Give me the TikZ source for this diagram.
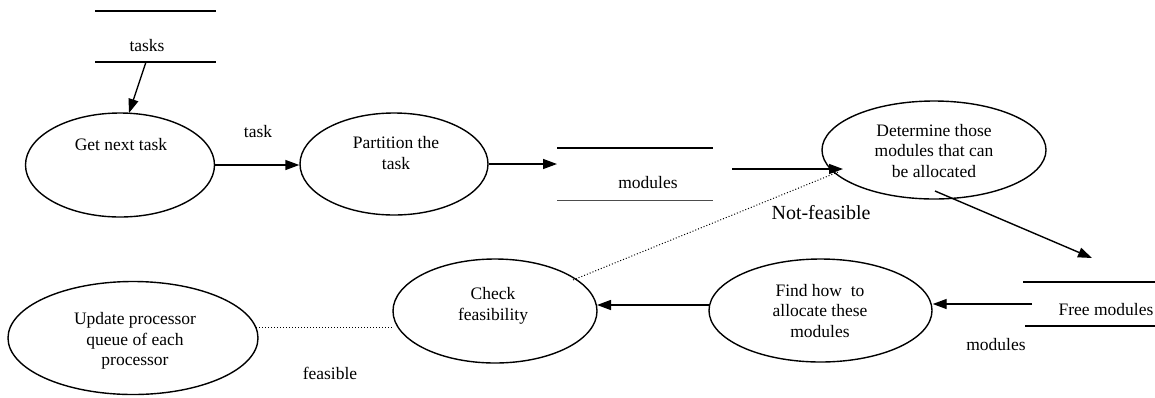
\documentclass[tikz,border=0pt]{standalone}
\usepackage{fontspec}
\setmainfont{Liberation Serif}
\newfontfamily\tnr{Liberation Serif}
\usetikzlibrary{arrows.meta,shapes.geometric}
\begin{document}
\begin{tikzpicture}[x=1pt,y=-1pt,
  proc/.style={draw,ellipse,line width=1.4pt,inner sep=0pt},
  txt/.style={align=center,font=\tnr\fontsize{17.5}{20.5}\selectfont,inner sep=0pt},
  big/.style={align=center,font=\tnr\fontsize{20}{23}\selectfont,inner sep=0pt},
  flow/.style={line width=1.4pt,-{Triangle[length=14pt,width=10pt]}},
  dots/.style={dotted,line width=1pt},
  storeline/.style={line width=1.4pt},
  thinline/.style={line width=0.6pt,black!70}]
\useasboundingbox (0,0) rectangle (1155,397);

% processes
\node[proc,minimum width=189pt,minimum height=104pt] (get) at (120,165) {};
\node[txt] (gettxt) at (121,145) {Get next task};
\node[proc,minimum width=188pt,minimum height=102pt] (part) at (394,164) {};
\node[txt] (parttxt) at (396,153) {Partition the\\task};
\node[proc,minimum width=224pt,minimum height=98pt] (det) at (934,150) {};
\node[txt] (dettxt) at (934,151) {Determine those\\modules that can\\be allocated};
\node[proc,minimum width=223pt,minimum height=103pt] (find) at (820.5,310.5) {};
\node[txt] (findtxt) at (820,311) {Find how~ to\\allocate these\\modules};
\node[proc,minimum width=204pt,minimum height=104pt] (check) at (495,311) {};
\node[txt] (checktxt) at (493,306) {Check\\feasibility};
\node[proc,minimum width=250pt,minimum height=113pt] (upd) at (133,338) {};
\node[txt] (updtxt) at (135,341) {Update processor\\queue of each\\processor};

% data stores
\coordinate (t1a) at (95,11);   \coordinate (t1b) at (216,11);
\coordinate (t2a) at (95,62);   \coordinate (t2b) at (216,62);
\draw[storeline] (t1a) -- (t1b);
\draw[storeline] (t2a) -- (t2b);
\node[txt] (tasks) at (147,46) {tasks};

\coordinate (m1a) at (557,148); \coordinate (m1b) at (713,148);
\coordinate (m2a) at (557,200); \coordinate (m2b) at (713,200);
\draw[storeline] (m1a) -- (m1b);
\draw[thinline] (m2a) -- (m2b);
\node[txt] (modules) at (648,183) {modules};

\coordinate (f1a) at (1023,282); \coordinate (f1b) at (1155,282);
\coordinate (f2a) at (1025,326); \coordinate (f2b) at (1155,326);
\draw[storeline] (f1a) -- (f1b);
\draw[storeline] (f2a) -- (f2b);
\node[txt] (free) at (1106,310) {Free modules};

% connectors
\coordinate (tasksout) at (146,62);
\coordinate (getin) at (129,113);
\draw[flow] (tasksout) -- (getin);
\draw[flow] (get.east) -- (get.east -| part.west);
\coordinate (modin) at (557,164);
\draw[flow] (part.east) -- (part.east -| modin);
\coordinate (modout) at (732,169);
\coordinate (detin) at (843,169);
\draw[flow] (modout) -- (detin);
\coordinate (detout) at (935,191);
\coordinate (freein) at (1092,258);
\draw[flow] (detout) -- (freein);
\coordinate (freeout) at (1032,304);
\draw[flow] (freeout) -- (freeout -| find.east);
\coordinate (findl) at (709,305);
\coordinate (checkr) at (597,305);
\draw[flow] (findl) -- (checkr);
\coordinate (chkout) at (573,280);
\coordinate (detnf) at (838,172);
\draw[dots] (chkout) -- (detnf);
\coordinate (updr) at (256,327);
\coordinate (chkl) at (393,327);
\draw[dots] (updr) -- (chkl);

% labels
\node[txt] (lbltask) at (258,132) {task};
\node[txt] (lblmod) at (996,345) {modules};
\node[txt] (lblfeas) at (330,373) {feasible};
\node[big] (lblnf) at (821,213) {Not-feasible};
\end{tikzpicture}
\end{document}
